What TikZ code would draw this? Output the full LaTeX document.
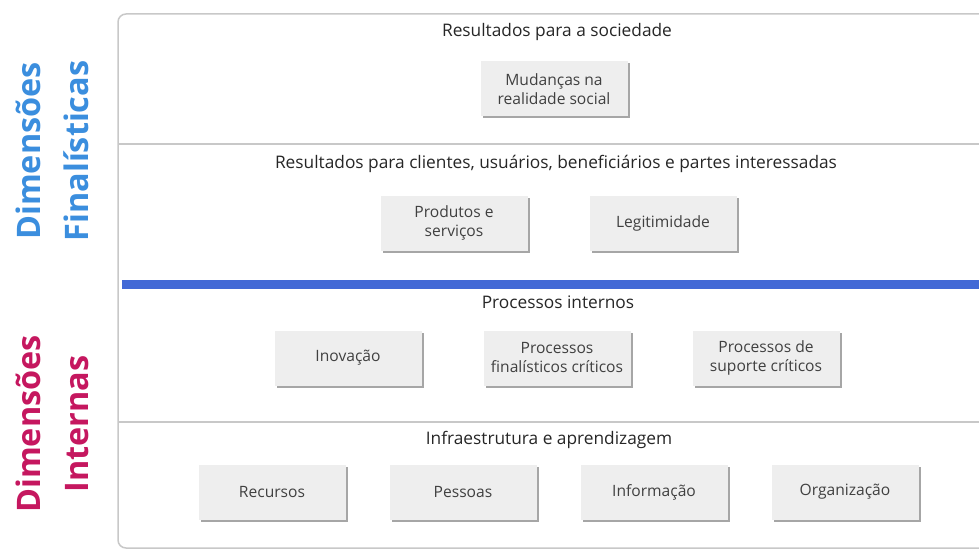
\documentclass[tikz,border=0pt]{standalone}
\usepackage{fontspec}
\setmainfont{Open Sans}
\usetikzlibrary{positioning, shadows}

\definecolor{finblue}{RGB}{59,142,222}
\definecolor{intred}{RGB}{197,23,95}
\definecolor{barblue}{RGB}{66,105,214}
\definecolor{frame}{RGB}{200,200,200}

\begin{document}
\begin{tikzpicture}[x=0.5pt,y=-0.5pt,on grid,node distance=104.5pt,
   box/.style={fill=gray!13, minimum width=73.5pt, minimum height=27.5pt, align=center,
      font=\fontsize{7.8}{9.5}\selectfont, text=black!75,
      drop shadow={shadow xshift=1pt, shadow yshift=-1pt, fill=black!50, opacity=.7}},
   head/.style={font=\fontsize{8.65}{10}\selectfont, text=black!85},
   side/.style={rotate=90, align=center, font=\fontsize{16.2}{24}\selectfont\bfseries}]

   \useasboundingbox (0,0) rectangle (979,551);

   % frame and separators
   \draw[frame, line width=0.75pt, rounded corners=4pt] (979,14) -- (118,14) -- (118,548) -- (979,548);
   \draw[frame, line width=0.75pt] (118,144) -- (979,144);
   \draw[frame, line width=0.75pt] (118,422) -- (979,422);
   \draw[barblue, line width=4.5pt] (122,284) -- (979,284);

   % side labels
   \node[side, text=finblue] (fin) at (52,151) {Dimensões\\Finalísticas};
   \node[side, text=intred]  (int) at (52,424) {Dimensões\\Internas};

   % sociedade
   \node[head] (hsoc) at (557,32) {Resultados para a sociedade};
   \node[box] (mud) at (554,89) {Mudanças na\\realidade social};

   % clientes
   \node[head] (hcli) at (556,164) {Resultados para clientes, usuários, beneficiários e partes interessadas};
   \node[box] (prod) at (454,223) {Produtos e\\serviços};
   \node[box] (legit) [right=of prod] {Legitimidade};

   % processos internos
   \node[head] (hproc) at (558,302) {Processos internos};
   \node[box] (inov) at (348,358) {Inovação};
   \node[box] (pfin) [right=of inov] {Processos\\finalísticos críticos};
   \node[box] (psup) [right=of pfin] {Processos de\\suporte críticos};

   % infraestrutura
   \node[head] (hinf) at (549,440) {Infraestrutura e aprendizagem};
   \node[box] (rec) at (272,492) {Recursos};
   \node[box] (pes) [right=95.5pt of rec] {Pessoas};
   \node[box] (info) [right=95.5pt of pes] {Informação};
   \node[box] (org) [right=95.5pt of info] {Organização};

\end{tikzpicture}
\end{document}
